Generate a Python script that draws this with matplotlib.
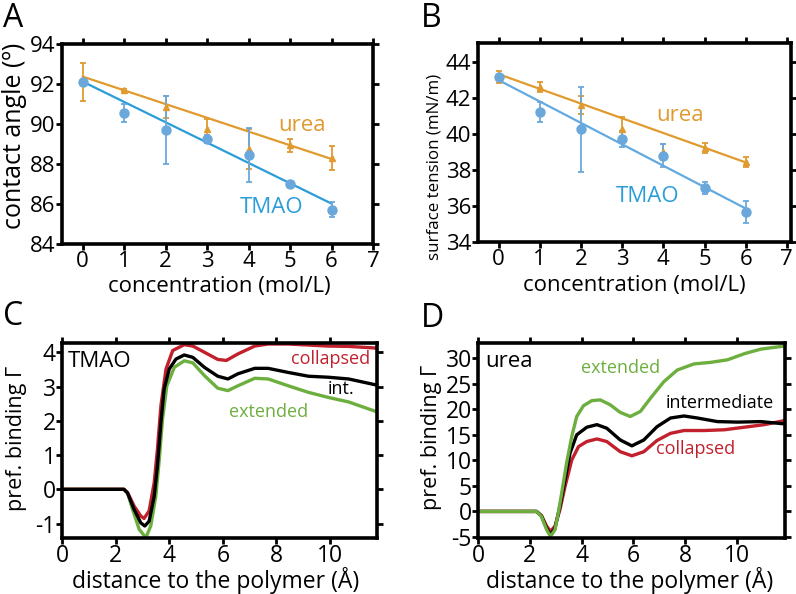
import numpy as np
import matplotlib
matplotlib.use("Agg")
import matplotlib.pyplot as plt

plt.rcParams['font.family'] = ['Open Sans', 'DejaVu Sans']
plt.rcParams['axes.unicode_minus'] = False

# colours
ORANGE = '#E09A2E'
BLUE_LINE = '#2A9DD8'
BLUE_LIGHT = '#62AADF'
BLUE_PT = '#6AA8DC'
RED = '#C1202C'
GREEN = '#6DAF3F'

# ---- panel A / B data (concentration in mol/L) ----
conc = [0, 1, 2, 3, 4, 5, 6]
fit_x = [0, 6]

angle_urea = [92.1, 91.69, 90.85, 89.75, 88.75, 88.93, 88.31]
angle_urea_err = [0.95, 0.05, 0.55, 0.5, 1.0, 0.33, 0.6]
angle_tmao = [92.12, 90.55, 89.72, 89.27, 88.47, 86.98, 85.72]
angle_tmao_err = [0.05, 0.47, 1.7, 0.2, 1.35, 0.05, 0.38]
angle_urea_fit = [92.37, 88.25]
angle_tmao_fit = [92.12, 86.02]

tens_urea = [43.18, 42.62, 41.6, 40.25, 39.0, 39.22, 38.45]
tens_urea_err = [0.33, 0.27, 0.5, 0.7, 0.43, 0.3, 0.28]
tens_tmao = [43.18, 41.22, 40.25, 39.7, 38.8, 36.98, 35.68]
tens_tmao_err = [0.1, 0.53, 2.35, 0.45, 0.63, 0.33, 0.6]
tens_urea_fit = [43.32, 38.42]
tens_tmao_fit = [42.99, 35.86]

# ---- panel C: TMAO preferential binding ----
c_x_int = [0, 2.31, 2.44, 2.69, 2.94, 3.09, 3.25, 3.44, 3.56, 3.69, 3.81, 4.0, 4.25, 4.56,
           4.88, 5.31, 5.81, 6.19, 6.56, 7.19, 7.69, 8.44, 9.19, 9.94, 10.69, 11.75]
c_int = [0, 0, -0.1, -0.59, -0.98, -1.07, -0.93, -0.2, 0.68, 1.95, 2.93, 3.51, 3.8, 3.92,
         3.85, 3.56, 3.3, 3.22, 3.37, 3.53, 3.53, 3.41, 3.3, 3.27, 3.22, 3.04]
c_x_col = [0, 2.31, 2.45, 2.69, 2.94, 3.06, 3.25, 3.44, 3.56, 3.69, 3.88, 4.13, 4.56, 4.88,
           5.31, 5.81, 6.13, 6.56, 7.19, 7.69, 8.44, 9.19, 9.94, 10.69, 11.75]
c_col = [0, 0, -0.1, -0.49, -0.78, -0.85, -0.63, 0.2, 1.17, 2.44, 3.51, 4.05, 4.22, 4.18,
         4.0, 3.79, 3.76, 3.95, 4.18, 4.24, 4.24, 4.21, 4.18, 4.17, 4.12]
c_x_ext = [0, 2.31, 2.45, 2.63, 2.88, 3.13, 3.31, 3.5, 3.63, 3.75, 3.91, 4.19, 4.56, 4.88,
           5.31, 5.81, 6.19, 6.56, 7.19, 7.69, 8.44, 9.19, 9.94, 10.69, 11.75]
c_ext = [0, 0, -0.12, -0.58, -1.17, -1.41, -1.07, -0.2, 0.88, 2.05, 3.02, 3.56, 3.75, 3.69,
         3.32, 2.95, 2.88, 3.02, 3.24, 3.22, 3.02, 2.83, 2.68, 2.55, 2.26]

# ---- panel D: urea preferential binding ----
d_x_ext = [0, 2.26, 2.45, 2.65, 2.8, 2.97, 3.1, 3.23, 3.42, 3.62, 3.81, 4.07, 4.39, 4.72,
           5.1, 5.49, 5.88, 6.27, 6.66, 7.17, 7.69, 8.34, 8.98, 9.63, 10.28, 10.92, 11.83]
d_ext = [0, 0, -1.0, -3.6, -4.9, -3.6, -0.3, 3.6, 9.5, 14.7, 18.6, 20.7, 21.7, 21.85,
         20.9, 19.4, 18.6, 19.6, 22.2, 25.4, 27.7, 28.9, 29.2, 29.7, 30.9, 31.8, 32.4]
d_x_int = [0, 2.26, 2.45, 2.65, 2.8, 2.97, 3.16, 3.36, 3.55, 3.81, 4.2, 4.59, 4.97, 5.49,
           5.94, 6.4, 6.91, 7.43, 7.95, 8.47, 9.24, 10.02, 10.92, 11.83]
d_int = [0, 0, -0.9, -3.3, -4.6, -3.3, 1.0, 6.2, 11.4, 15.0, 16.5, 17.0, 16.3, 14.0,
         12.85, 14.0, 16.6, 18.3, 18.7, 18.3, 17.6, 17.5, 17.6, 17.15]
d_x_col = [0, 2.26, 2.45, 2.65, 2.8, 2.97, 3.16, 3.36, 3.62, 3.88, 4.2, 4.59, 4.97, 5.49,
           5.94, 6.4, 6.91, 7.43, 7.95, 8.73, 9.51, 10.28, 11.05, 11.83]
d_col = [0, 0, -0.8, -2.9, -3.9, -2.9, 0.3, 4.9, 10.1, 12.7, 13.7, 14.2, 13.7, 11.7,
         10.9, 11.7, 13.9, 15.3, 15.85, 15.85, 16.0, 16.5, 17.0, 17.8]

fig = plt.figure(figsize=(7.96, 5.94), dpi=100)
axA = fig.add_axes([0.0779, 0.5892, 0.3907, 0.3367])
axB = fig.add_axes([0.6005, 0.5926, 0.3932, 0.3350])
axC = fig.add_axes([0.0779, 0.0943, 0.3957, 0.3283])
axD = fig.add_axes([0.6005, 0.0943, 0.3857, 0.3283])


def style(ax, size, pad=1):
    for s in ax.spines.values():
        s.set_linewidth(2.6)
    ax.tick_params(direction='out', length=4, width=2, labelsize=size,
                   top=True, right=True, pad=pad)


def conc_panel(ax, urea, urea_err, tmao, tmao_err, urea_fit, tmao_fit, line_col):
    ax.plot(fit_x, urea_fit, color=ORANGE, lw=1.6, zorder=2)
    ax.plot(fit_x, tmao_fit, color=line_col, lw=1.6, zorder=2)
    ax.errorbar(conc, urea, yerr=urea_err, fmt='^', color=ORANGE, ms=5,
                elinewidth=1.3, capsize=2, capthick=1.3, zorder=3)
    ax.errorbar(conc, tmao, yerr=tmao_err, fmt='o', color=BLUE_PT, ms=6.5,
                elinewidth=1.3, capsize=2, capthick=1.3, zorder=3)
    ax.set_xticks(range(0, 8))
    ax.set_xlabel('concentration (mol/L)', fontsize=16)
    style(ax, 16)


# A
conc_panel(axA, angle_urea, angle_urea_err, angle_tmao, angle_tmao_err,
           angle_urea_fit, angle_tmao_fit, BLUE_LINE)
axA.set_xlim(-0.5, 7)
axA.set_ylim(84, 94)
axA.set_yticks(range(84, 95, 2))
axA.set_ylabel('contact angle (º)', fontsize=18)
axA.yaxis.set_label_coords(-0.112, 0.54)
axA.xaxis.set_label_coords(0.505, -0.16)
axA.text(5.3, 89.95, 'urea', color=ORANGE, fontsize=16, ha='center', va='center')
axA.text(4.55, 85.85, 'TMAO', color=BLUE_LINE, fontsize=16, ha='center', va='center')

# B
conc_panel(axB, tens_urea, tens_urea_err, tens_tmao, tens_tmao_err,
           tens_urea_fit, tens_tmao_fit, BLUE_LIGHT)
axB.set_xlim(-0.5, 7.1)
axB.set_ylim(34, 45.05)
axB.set_yticks(range(34, 45, 2))
axB.set_ylabel('surface tension (mN/m)', fontsize=12.2)
axB.yaxis.set_label_coords(-0.115, 0.377)
axB.xaxis.set_label_coords(0.50, -0.165)
axB.text(4.4, 41.0, 'urea', color=ORANGE, fontsize=16, ha='center', va='center')
axB.text(3.62, 36.5, 'TMAO', color=BLUE_LINE, fontsize=16, ha='center', va='center')

# C
axC.plot(c_x_ext, c_ext, color=GREEN, lw=2.4)
axC.plot(c_x_col, c_col, color=RED, lw=2.4)
axC.plot(c_x_int, c_int, color='black', lw=2.4)
axC.set_xlim(0, 11.75)
axC.set_ylim(-1.42, 4.27)
axC.set_xticks(range(0, 11, 2))
axC.set_yticks(range(-1, 5))
axC.set_xlabel('distance to the polymer (Å)', fontsize=16.5)
axC.set_ylabel('pref. binding Γ', fontsize=15.5)
axC.yaxis.set_label_coords(-0.11, 0.51)
axC.xaxis.set_label_coords(0.488, -0.147)
axC.text(0.22, 3.73, 'TMAO', fontsize=16, ha='left', va='center')
axC.text(10.0, 3.79, 'collapsed', color=RED, fontsize=13, ha='center', va='center')
axC.text(10.4, 2.92, 'int.', color='black', fontsize=13, ha='center', va='center')
axC.text(7.7, 2.27, 'extended', color=GREEN, fontsize=13, ha='center', va='center')
style(axC, 16.5, pad=0.5)

# D
axD.plot(d_x_col, d_col, color=RED, lw=2.4)
axD.plot(d_x_int, d_int, color='black', lw=2.4)
axD.plot(d_x_ext, d_ext, color=GREEN, lw=2.4)
axD.set_xlim(0, 11.85)
axD.set_ylim(-5.2, 33)
axD.set_xticks(range(0, 11, 2))
axD.set_yticks(range(-5, 31, 5))
axD.set_xlabel('distance to the polymer (Å)', fontsize=16.5)
axD.set_ylabel('pref. binding Γ', fontsize=15.5)
axD.yaxis.set_label_coords(-0.116, 0.515)
axD.xaxis.set_label_coords(0.494, -0.147)
axD.text(0.27, 29.3, 'urea', fontsize=16, ha='left', va='center')
axD.text(5.5, 28.1, 'extended', color=GREEN, fontsize=13, ha='center', va='center')
axD.text(9.34, 21.2, 'intermediate', color='black', fontsize=13, ha='center', va='center')
axD.text(8.41, 12.3, 'collapsed', color=RED, fontsize=13, ha='center', va='center')
style(axD, 16.5, pad=0.5)

# panel letters
for lx, ly, letter in [(3, 27, 'A'), (421, 27, 'B'), (3, 325, 'C'), (421, 327, 'D')]:
    fig.text(lx / 796, 1 - ly / 594, letter, fontsize=23, ha='left', va='baseline')

fig.savefig('out.png', dpi=100)
